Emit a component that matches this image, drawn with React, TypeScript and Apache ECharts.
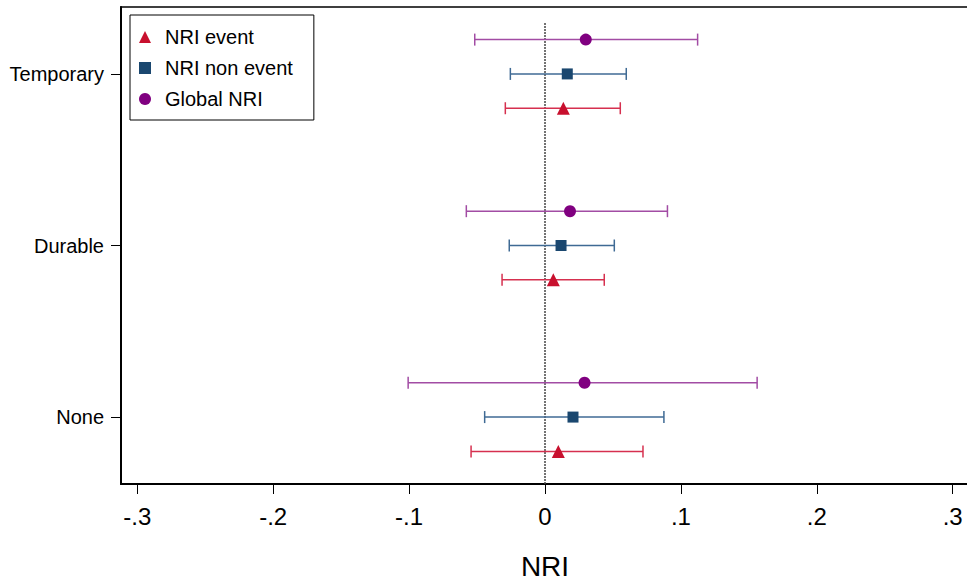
import React, { useEffect, useRef } from "react";
import * as echarts from "echarts";

const categories = ["None", "Durable", "Temporary"];
const xTicks = [-0.3, -0.2, -0.1, 0, 0.1, 0.2, 0.3];

const eventPt = [0.0098, 0.0061, 0.0135];
const eventLo = [-0.0544, -0.0316, -0.0292];
const eventHi = [0.0721, 0.0436, 0.0554];

const nonPt = [0.0206, 0.0118, 0.0164];
const nonLo = [-0.0444, -0.0263, -0.0255];
const nonHi = [0.0875, 0.051, 0.0598];

const globPt = [0.0291, 0.0184, 0.03];
const globLo = [-0.1007, -0.0579, -0.0517];
const globHi = [0.1561, 0.0901, 0.1123];

const FONT = '"Liberation Sans", Helvetica, Arial, sans-serif';

function fmtTick(v: number): string {
  const r = Math.round(v * 10) / 10;
  if (r === 0) return "0";
  const s = String(Math.abs(r)).replace(/^0/, "");
  return (r < 0 ? "-" : "") + s;
}

function ciSeries(name: string, lo: number[], hi: number[], offset: number, color: string) {
  const data = lo.map((l, i) => [l, hi[i], i + offset]);
  return {
    type: "custom",
    name,
    data,
    z: 2,
    silent: true,
    encode: { x: [0, 1], y: 2 },
    renderItem: (params: any, api: any) => {
      const y = api.value(2);
      const p1 = api.coord([api.value(0), y]);
      const p2 = api.coord([api.value(1), y]);
      const h = 6;
      const style = { stroke: color, lineWidth: 1.5 };
      return {
        type: "group",
        children: [
          { type: "line", shape: { x1: p1[0], y1: p1[1], x2: p2[0], y2: p2[1] }, style },
          { type: "line", shape: { x1: p1[0], y1: p1[1] - h, x2: p1[0], y2: p1[1] + h }, style },
          { type: "line", shape: { x1: p2[0], y1: p2[1] - h, x2: p2[0], y2: p2[1] + h }, style },
        ],
      };
    },
  };
}

function ptSeries(name: string, pts: number[], offset: number, color: string, symbol: string, size: number) {
  return {
    type: "scatter",
    name,
    data: pts.map((v, i) => [v, i + offset]),
    symbol,
    symbolSize: size,
    itemStyle: { color, opacity: 1 },
    z: 5,
  };
}

export default function App() {
  const ref = useRef<HTMLDivElement>(null);
  useEffect(() => {
    if (!ref.current) return;
    const chart = echarts.init(ref.current, null, { renderer: "svg" });
    const red = "#C8102E";
    const navy = "#1A476F";
    const purple = "#800080";
    chart.setOption({
      animation: false,
      backgroundColor: "#fff",
      textStyle: { fontFamily: FONT },
      grid: {
        left: 121,
        top: 7,
        right: -2,
        bottom: 99,
        outerBoundsMode: "none",
        containLabel: false,
        show: true,
        borderColor: "#000",
        borderWidth: 1.5,
        backgroundColor: "#fff",
      },
      legend: {
        orient: "vertical",
        left: 130,
        top: 15,
        padding: [12, 21, 11, 9],
        itemGap: 11,
        itemWidth: 12,
        itemHeight: 12,
        borderColor: "#000",
        borderWidth: 1,
        borderRadius: 0,
        backgroundColor: "#fff",
        textStyle: { fontFamily: FONT, fontSize: 20, color: "#000", lineHeight: 20, padding: [0, 0, 0, 9] },
        data: [
          { name: "NRI event", icon: "triangle" },
          { name: "NRI non event", icon: "rect" },
          { name: "Global NRI", icon: "circle" },
        ],
      },
      xAxis: {
        type: "value",
        min: -0.312,
        max: 0.312,
        name: "NRI",
        nameLocation: "middle",
        nameGap: 68,
        nameTextStyle: { fontFamily: FONT, fontSize: 28, color: "#000" },
        axisLine: { show: true, onZero: false, lineStyle: { color: "#000", width: 2 } },
        axisTick: { show: true, length: 10, customValues: xTicks, lineStyle: { color: "#000", width: 1 } },
        axisLabel: {
          customValues: xTicks,
          formatter: (v: number) => fmtTick(v),
          fontFamily: FONT,
          fontSize: 24,
          color: "#000",
          margin: 20,
        },
        splitLine: { show: false },
      },
      yAxis: {
        type: "value",
        min: -0.39,
        max: 2.39,
        axisLine: { show: true, onZero: false, lineStyle: { color: "#000", width: 2 } },
        axisTick: { show: true, length: 10, customValues: [0, 1, 2], lineStyle: { color: "#000", width: 1 } },
        axisLabel: {
          customValues: [0, 1, 2],
          formatter: (v: number) => categories[Math.round(v)] ?? "",
          fontFamily: FONT,
          fontSize: 20,
          color: "#000",
          margin: 17,
        },
        splitLine: { show: false },
      },
      series: [
        {
          type: "line",
          name: "zero",
          data: [
            [0, -0.39],
            [0, 2.3],
          ],
          symbol: "none",
          silent: true,
          z: 1,
          lineStyle: { color: "#444", width: 1.5, type: [2, 1] },
        },
        ciSeries("ci-glob", globLo, globHi, 0.2, "#A24CA4"),
        ciSeries("ci-non", nonLo, nonHi, 0, "#3F6A94"),
        ciSeries("ci-event", eventLo, eventHi, -0.2, "#D6304F"),
        ptSeries("Global NRI", globPt, 0.2, purple, "circle", 12),
        ptSeries("NRI non event", nonPt, 0, navy, "rect", 11),
        ptSeries("NRI event", eventPt, -0.2, red, "triangle", 13),
      ],
    });
    return () => chart.dispose();
  }, []);
  return (
    <div
      ref={ref}
      style={{ position: "absolute", left: 0, top: 0, width: 967, height: 583 }}
    />
  );
}
